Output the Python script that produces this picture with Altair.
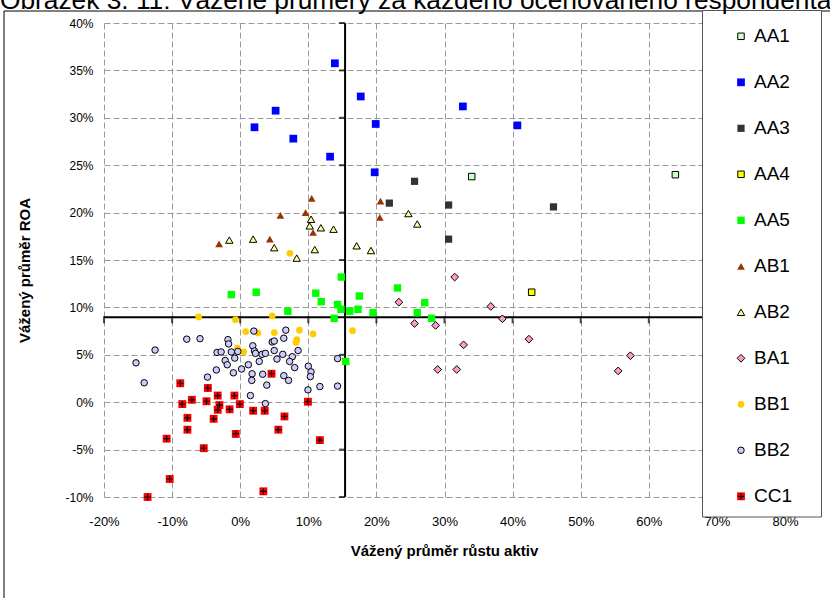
import altair as alt
import pandas as pd

TITLE = "Obrázek 3. 11: Vážené průměry za každého oceňovaného respondenta"
X_TITLE = "Vážený průměr růstu aktiv"
Y_TITLE = "Vážený průměr ROA"

series = ["AA1", "AA2", "AA3", "AA4", "AA5", "AB1", "AB2", "BA1", "BB1", "BB2", "CC1"]

aa1_x = [34.0, 63.9]
aa1_y = [23.8, 24.0]
aa2_x = [13.9, 5.2, 2.1, 7.8, 13.2, 17.7, 19.9, 19.75, 32.7, 40.7]
aa2_y = [35.75, 30.75, 29.0, 27.8, 25.9, 32.25, 29.35, 24.25, 31.2, 29.2]
aa3_x = [25.6, 21.9, 30.6, 30.6, 46.0]
aa3_y = [23.3, 21.0, 20.8, 17.2, 20.6]
aa4_x = [42.8]
aa4_y = [11.6]
aa5_x = [-1.3, 2.35, 7.0, 11.1, 11.9, 14.85, 14.3, 14.8, 13.8, 16.1, 17.5, 17.3, 19.5, 23.1, 27.1, 26.0, 28.1, 15.5]
aa5_y = [11.35, 11.6, 9.6, 11.5, 10.6, 13.2, 10.3, 9.8, 8.85, 9.6, 11.2, 9.8, 9.45, 12.05, 10.5, 9.45, 8.85, 4.3]
ab1_x = [-3.1, 4.35, 5.9, 9.6, 10.5, 10.7, 20.6, 20.5]
ab1_y = [16.7, 17.2, 19.7, 20.0, 21.5, 17.9, 21.2, 19.5]
ab2_x = [-1.6, 1.9, 5.0, 8.3, 10.4, 10.2, 11.85, 10.95, 13.7, 17.1, 19.2, 24.7, 26.0]
ab2_y = [17.1, 17.2, 16.3, 15.2, 19.3, 18.6, 18.4, 16.1, 18.25, 16.5, 16.0, 19.9, 18.8]
ba1_x = [31.5, 23.3, 36.8, 38.5, 25.6, 28.7, 32.8, 42.4, 29.0, 31.8, 55.5, 57.3]
ba1_y = [13.2, 10.55, 10.1, 8.8, 8.3, 8.1, 6.05, 6.65, 3.45, 3.45, 3.3, 4.9]
bb1_x = [-6.1, -0.7, 4.7, 7.3, 0.8, 2.6, 5.0, 8.7, 10.7, 8.3, 8.2, -0.4, 0.5, 16.5]
bb1_y = [9.0, 8.7, 9.1, 15.7, 7.45, 7.3, 7.35, 7.6, 7.2, 6.6, 6.3, 5.7, 5.3, 7.55]
bb2_x = [-15.3, -14.1, -12.5, -7.85, -5.9, -4.8, -3.5, -3.4, -2.8, -1.8, -1.7, -1.3, -0.35,
         -2.2, -0.8, -1.9, -1.0, 0.2, 1.2, 1.5, 2.0, 6.7, 6.4, 4.7, 5.0, 1.85, 2.1, 2.25,
         3.2, 3.7, 5.0, 5.4, 6.25, 7.65, 7.25, 8.0, 8.5, 2.8, 1.75, 1.7, 3.3, 3.9, 6.4, 7.1,
         10.0, 10.4, 10.3, 9.95, 11.7, 14.3, 14.3, 3.7]
bb2_y = [4.15, 2.05, 5.5, 6.65, 6.7, 2.65, 3.4, 5.25, 5.3, 6.6, 6.15, 5.3, 5.35,
         4.4, 4.65, 3.95, 3.1, 3.5, 3.95, 0.7, 7.5, 7.6, 6.75, 6.35, 6.45, 5.95, 5.4, 5.15,
         5.05, 5.15, 5.45, 4.55, 5.05, 4.8, 4.3, 3.65, 5.45, 4.3, 3.0, 2.3, 2.95, 1.8, 2.8, 2.3,
         3.8, 3.2, 2.7, 1.3, 1.65, 1.7, 4.6, -0.15]
cc1_x = [-8.8, -4.75, -8.5, -7.1, -4.95, -3.3, -0.85, -3.05, -3.3, -1.55, -0.05, -3.9, -7.75,
         -7.75, -10.8, -5.35, -0.65, 1.9, 3.6, 4.6, 6.5, 5.6, 9.95, 11.7, -10.35, -13.6, 3.4]
cc1_y = [2.0, 1.5, -0.2, 0.25, 0.1, 0.7, 0.7, -0.3, -0.8, -0.75, -0.2, -1.75, -1.65,
         -2.9, -3.85, -4.85, -3.35, -0.9, -0.9, 3.0, -1.5, -2.9, 0.05, -4.0, -8.1, -10.0, -9.4]

# crossing axes (averages)
cross_x = [15.4]
cross_y = [8.95]
x_ticks = [-20, -10, 0, 10, 20, 30, 40, 50, 60, 70, 80]
y_ticks = [-10, -5, 0, 5, 10, 15, 20, 25, 30, 35, 40]

xs_all = [aa1_x, aa2_x, aa3_x, aa4_x, aa5_x, ab1_x, ab2_x, ba1_x, bb1_x, bb2_x, cc1_x]
ys_all = [aa1_y, aa2_y, aa3_y, aa4_y, aa5_y, ab1_y, ab2_y, ba1_y, bb1_y, bb2_y, cc1_y]

rows = []
for name, xs, ys in zip(series, xs_all, ys_all):
    for xv, yv in zip(xs, ys):
        rows.append({"series": name, "x": xv, "y": yv})
df = pd.DataFrame(rows)

# marker styles
styles = {
    "AA1": dict(shape="square", fill="#CCFFCC", size=42, strokeWidth=1),
    "AA2": dict(shape="square", fill="#0000FF", size=60, strokeWidth=0),
    "AA3": dict(shape="square", fill="#333333", size=52, strokeWidth=0),
    "AA4": dict(shape="square", fill="#FFFF00", size=42, strokeWidth=1),
    "AA5": dict(shape="square", fill="#00FF00", size=55, strokeWidth=0),
    "AB1": dict(shape="triangle-up", fill="#993300", size=60, strokeWidth=0),
    "AB2": dict(shape="triangle-up", fill="#FFFF99", size=55, strokeWidth=1),
    "BA1": dict(shape="diamond", fill="#FF99CC", size=60, strokeWidth=1),
    "BB1": dict(shape="circle", fill="#FFCC00", size=45, strokeWidth=0),
    "BB2": dict(shape="circle", fill="#CCCCFF", size=42, strokeWidth=1),
    "CC1": dict(shape="square", fill="#FF0000", size=62, strokeWidth=0),
}
PLUS = "M-1,0H1M0,-1V1"

xscale = alt.Scale(domain=[-20, 80], nice=False, zero=False)
yscale = alt.Scale(domain=[-10, 40], nice=False, zero=False)
FONT = "Liberation Sans"

x_axis = alt.Axis(values=x_ticks, labelExpr="datum.value + '%'", grid=True, gridDash=[6, 3],
                  gridColor="#9a9a9a", gridWidth=1, domain=False, ticks=False, tickSize=0,
                  labelFontSize=13, labelFont=FONT, labelColor="black", labelPadding=18,
                  labelFlush=False, labelOverlap=False,
                  title=X_TITLE, titleFont=FONT, titleFontSize=15, titleFontWeight="bold",
                  titleColor="black", titleX=340, titleY=53, titleBaseline="middle",
                  titleAnchor="middle", titleAlign="center")
y_axis = alt.Axis(values=y_ticks, labelExpr="datum.value + '%'", grid=True, gridDash=[6, 3],
                  gridColor="#9a9a9a", gridWidth=1, domain=False, ticks=False, tickSize=0,
                  labelFontSize=12, labelFont=FONT, labelColor="black", labelPadding=11,
                  labelFlush=False, labelOverlap=False,
                  title=Y_TITLE, titleFont=FONT, titleFontSize=15, titleFontWeight="bold",
                  titleColor="black", titleX=-80, titleY=247, titleAngle=270,
                  titleBaseline="middle", titleAlign="center")

base = alt.Chart(df)

inner_layers = []
# crossing axis lines
vline = alt.Chart(pd.DataFrame({"cx": cross_x})).mark_rule(color="black", strokeWidth=2).encode(
    x=alt.X("cx:Q", scale=xscale, axis=x_axis), y=alt.datum(-10, scale=yscale), y2=alt.datum(40))
hline = alt.Chart(pd.DataFrame({"cy": cross_y})).mark_rule(color="black", strokeWidth=2).encode(
    y=alt.Y("cy:Q", scale=yscale, axis=y_axis), x=alt.datum(-20, scale=xscale), x2=alt.datum(80))
vticks = alt.Chart(pd.DataFrame({"ty": y_ticks, "cx": cross_x * len(y_ticks)})).mark_tick(
    orient="horizontal", size=6, thickness=2, color="black", xOffset=-3).encode(
    x=alt.X("cx:Q", scale=xscale), y=alt.Y("ty:Q", scale=yscale))
hticks = alt.Chart(pd.DataFrame({"tx": x_ticks, "cy": cross_y * len(x_ticks)})).mark_tick(
    orient="vertical", size=7, thickness=2, color="black", yOffset=2.5).encode(
    x=alt.X("tx:Q", scale=xscale), y=alt.Y("cy:Q", scale=yscale))
inner_layers += [vline, hline, vticks, hticks]

for name in series:
    st = styles[name]
    layer = base.transform_filter(alt.datum.series == name).mark_point(
        shape=st["shape"], fill=st["fill"], filled=True, opacity=1, fillOpacity=1,
        size=st["size"], stroke="black", strokeWidth=st["strokeWidth"]).encode(
        x=alt.X("x:Q", scale=xscale), y=alt.Y("y:Q", scale=yscale))
    inner_layers.append(layer)
plus = base.transform_filter(alt.datum.series == "CC1").mark_point(
    shape=PLUS, filled=False, stroke="black", strokeWidth=1.2, size=40, opacity=1).encode(
    x=alt.X("x:Q", scale=xscale), y=alt.Y("y:Q", scale=yscale))
inner_layers.append(plus)

inner = alt.layer(*inner_layers)

one = alt.Data(values=[{}])
frame = alt.Chart(one).mark_rect(fill="transparent", stroke="black", strokeWidth=1).encode(
    x=alt.value(-100), x2=alt.value(740), y=alt.value(-12), y2=alt.value(590))
legend_box = alt.Chart(one).mark_rect(fill="white", stroke="#555555", strokeWidth=1).encode(
    x=alt.value(598.5), x2=alt.value(717.5), y=alt.value(-12.5), y2=alt.value(494))
title_text = alt.Chart(one).mark_text(text=TITLE, align="left", baseline="alphabetic",
                                      font=FONT, fontSize=26.3, color="black").encode(
    x=alt.value(-104), y=alt.value(-14))

leg_df = pd.DataFrame({"series": series})
leg_y = alt.Scale(domain=series, range=[13.3, 473.3], padding=0)
legend_layers = []
for name in series:
    st = styles[name]
    legend_layers.append(alt.Chart(leg_df).transform_filter(alt.datum.series == name).mark_point(
        shape=st["shape"], fill=st["fill"], filled=True, opacity=1, fillOpacity=1,
        size=st["size"], stroke="black", strokeWidth=st["strokeWidth"]).encode(
        x=alt.value(637), y=alt.Y("series:N", scale=leg_y, axis=None)))
legend_layers.append(alt.Chart(leg_df).transform_filter(alt.datum.series == "CC1").mark_point(
    shape=PLUS, filled=False, stroke="black", strokeWidth=1.2, size=40, opacity=1).encode(
    x=alt.value(637), y=alt.Y("series:N", scale=leg_y, axis=None)))
legend_layers.append(alt.Chart(leg_df).mark_text(align="left", baseline="middle", font=FONT,
                                                 fontSize=19, color="black").encode(
    x=alt.value(650), y=alt.Y("series:N", scale=leg_y, axis=None), text="series:N"))

chart = alt.layer(frame, inner, legend_box, *legend_layers, title_text).resolve_scale(
    x="independent", y="independent").properties(
    width=681, height=474, autosize=alt.AutoSizeParams(type="none"),
    padding={"left": 104, "top": 23, "right": 45, "bottom": 101},
    background="white").configure_view(stroke=None)

chart.save("out.html", embed_options={"renderer": "svg", "actions": False})
